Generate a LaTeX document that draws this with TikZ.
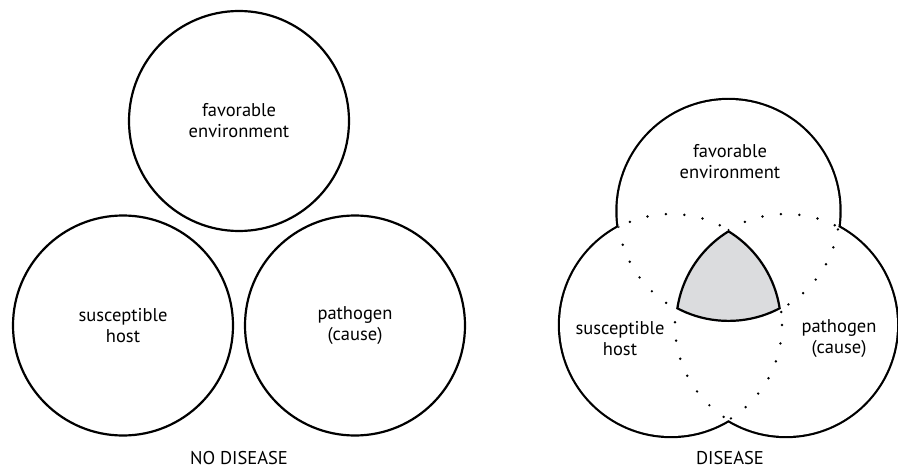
\documentclass[tikz,border=0pt]{standalone}
\usepackage{fontspec}
\setmainfont{PT Sans}
\definecolor{coregrey}{RGB}{219,220,222}

\begin{document}
\begin{tikzpicture}[x=1pt,y=-1pt,
    ring/.style={circle,draw,line width=2.2pt,minimum size=220pt,inner sep=0pt,
                 align=center,font=\fontsize{18.5}{21}\selectfont},
    caption/.style={align=center,inner sep=0pt,font=\fontsize{18.5}{21}\selectfont},
    rim/.style={line width=4.4pt},
    dots/.style={line width=2.7pt,line cap=round,dash pattern=on 0pt off 18.5pt}]

        \useasboundingbox (0,0) rectangle (898,468);

        % no disease
        \node[ring]    (envL)  at (239,121)   {favorable\\environment};
        \node[ring]    (hostL) at (123,325.5) {susceptible\\host};
        \node[ring]    (pathL) at (355,325.5) {pathogen\\(cause)};
        \node[caption] (noD)   at (239,458)   {NO DISEASE};

        % disease
        \coordinate (envR)  at (728.5,211);
        \coordinate (hostR) at (671,325);
        \coordinate (pathR) at (786,325);

        \draw[rim] (envR) circle (111) (hostR) circle (111) (pathR) circle (111);
        \fill[white] (envR) circle (111) (hostR) circle (111) (pathR) circle (111);

        \foreach \a/\b/\c in {envR/hostR/pathR,envR/pathR/hostR,hostR/envR/pathR,
                              hostR/pathR/envR,pathR/envR/hostR,pathR/hostR/envR}{
          \begin{scope}[even odd rule]
            \clip (\b) circle (111);
            \clip (\c) circle (111) (0,0) rectangle (898,468);
            \draw[dots] (\a) circle (111);
          \end{scope}
        }

        \begin{scope}
          \clip (envR) circle (111);
          \clip (hostR) circle (111);
          \clip (pathR) circle (111);
          \fill[coregrey] (envR) circle (111);
          \draw[rim] (envR) circle (111) (hostR) circle (111) (pathR) circle (111);
        \end{scope}

        \node[caption] (envT)  at (730,162) {favorable\\environment};
        \node[caption] (hostT) at (620,339) {susceptible\\host};
        \node[caption] (pathT) at (839,339) {pathogen\\(cause)};
        \node[caption] (yesD)  at (730,458) {DISEASE};
\end{tikzpicture}
\end{document}
